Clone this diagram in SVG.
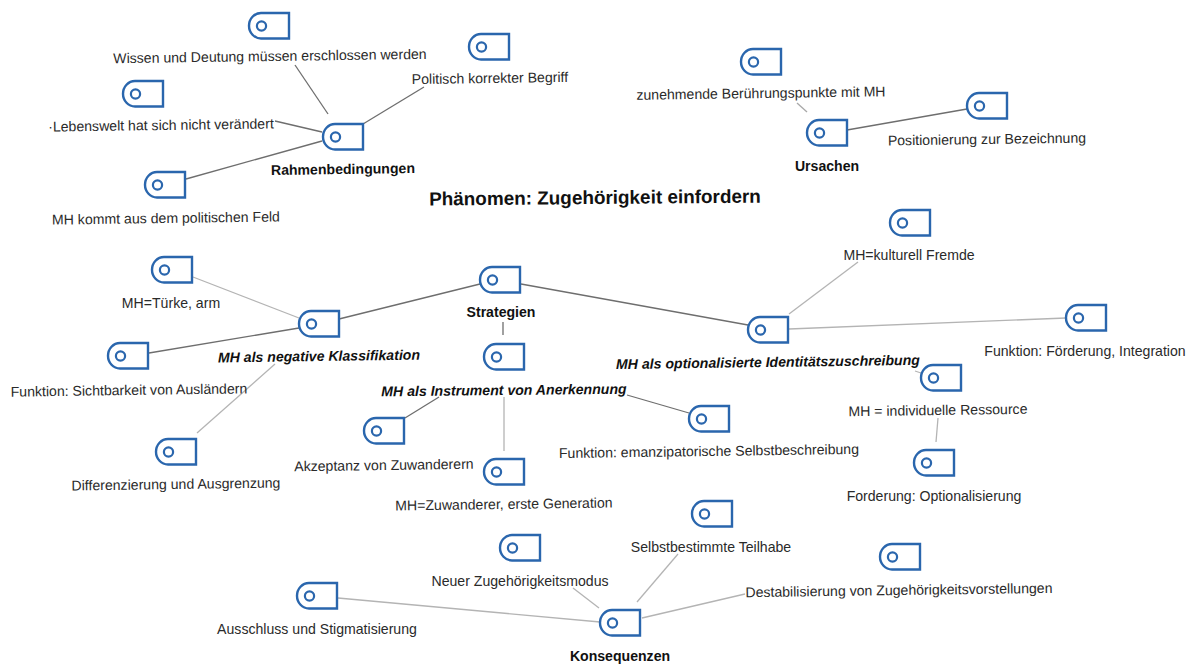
<svg xmlns="http://www.w3.org/2000/svg" xmlns:xlink="http://www.w3.org/1999/xlink" width="1197" height="664" viewBox="0 0 1197 664">
<style>
text{font-family:"Liberation Sans",Arial,sans-serif;font-size:14.1px;fill:#2a2a2a;text-anchor:middle}
.b{font-weight:bold;fill:#111}
.bi{font-weight:bold;font-style:italic;fill:#111}
.t{font-size:18.9px;font-weight:bold;fill:#111}
.d{stroke:#6e6e6e;stroke-width:1.3;fill:none}
.l{stroke:#b4b4b4;stroke-width:1.3;fill:none}
.s{fill:#fff;stroke:#2a66ad;stroke-width:2.4}
.c{fill:#fff;stroke:#2a66ad;stroke-width:2.2}
</style>
<defs><g id="n"><path class="s" d="M12 0H40V25.500H12A12 12.750 0 0 1 12 0Z"/><circle class="c" cx="12.500" cy="13" r="4.600"/></g></defs>
<rect width="1197" height="664" fill="#fff"/>
<g id="connectors">
<path class="d" d="M295 65L328 114"/><path class="d" d="M424 87L363 124"/><path class="d" d="M275 121L322 132"/><path class="d" d="M322 141L186 179"/>
<path class="d" d="M797 103L807 112" opacity=".6"/><path class="d" d="M847 130L967 109"/>
<path class="l" d="M193 277L299 318"/><path class="d" d="M339 319L480 284"/><path class="d" d="M299 328L149 353"/><path class="d" d="M521 284L748 325"/>
<path class="d" d="M503 322V335"/><path class="l" d="M275 364L197 433"/><path class="d" d="M439 397L405 418"/><path class="l" d="M504 397V451"/><path class="d" d="M627 395L689 413"/>
<path class="l" d="M858 262L789 314"/><path class="l" d="M789 329L1066 318"/><path class="l" d="M915 371L921 373"/><path class="l" d="M938 418L936 442"/>
<path class="l" d="M338 598L600 622"/><path class="l" d="M573 588L599 608"/><path class="l" d="M637 602L678 554"/><path class="l" d="M642 618L745 594"/>
</g>
<use id="node-1" href="#n" x="249" y="13"/><use id="node-2" href="#n" x="469" y="34"/><use id="node-3" href="#n" x="123" y="81"/><use id="node-4" href="#n" x="323" y="124"/><use id="node-5" href="#n" x="145" y="172"/>
<use id="node-6" href="#n" x="741" y="49"/><use id="node-7" href="#n" x="967" y="93"/><use id="node-8" href="#n" x="807" y="120"/><use id="node-9" href="#n" x="890" y="210"/><use id="node-10" href="#n" x="152" y="257"/>
<use id="node-11" href="#n" x="480" y="267"/><use id="node-12" href="#n" x="299" y="311"/><use id="node-13" href="#n" x="108" y="343"/><use id="node-14" href="#n" x="484" y="344"/><use id="node-15" href="#n" x="1066" y="305"/>
<use id="node-16" href="#n" x="748" y="317"/><use id="node-17" href="#n" x="921" y="365"/><use id="node-18" href="#n" x="689" y="406"/><use id="node-19" href="#n" x="364" y="418"/><use id="node-20" href="#n" x="156" y="439"/>
<use id="node-21" href="#n" x="914" y="450"/><use id="node-22" href="#n" x="484" y="459"/><use id="node-23" href="#n" x="692" y="501"/><use id="node-24" href="#n" x="500" y="535"/><use id="node-25" href="#n" x="880" y="544"/>
<use id="node-26" href="#n" x="297" y="583"/><use id="node-27" href="#n" x="600" y="610"/>
<g id="labels">
<text x="270" y="61" transform="rotate(-.8 270 61)">Wissen und Deutung müssen erschlossen werden</text>
<text x="490" y="83" transform="rotate(-.8 490 83)">Politisch korrekter Begriff</text>
<text x="161" y="130" transform="rotate(-.8 161 130)">·Lebenswelt hat sich nicht verändert</text>
<text x="343" y="174" class="b" transform="rotate(-.8 343 174)">Rahmenbedingungen</text>
<text x="166" y="223" transform="rotate(-.8 166 223)">MH kommt aus dem politischen Feld</text>
<text x="761" y="98" transform="rotate(-.8 761 98)">zunehmende Berührungspunkte mit MH</text>
<text x="987" y="144" transform="rotate(-.8 987 144)">Positionierung zur Bezeichnung</text>
<text x="827" y="171" class="b">Ursachen</text>
<text x="595" y="204" class="t" transform="rotate(-.5 595 204)">Phänomen: Zugehörigkeit einfordern</text>
<text x="171" y="308">MH=Türke, arm</text>
<text x="501" y="317" class="b">Strategien</text>
<text x="319" y="361" class="bi" transform="rotate(-.8 319 361)">MH als negative Klassifikation</text>
<text x="129" y="395" transform="rotate(-.8 129 395)">Funktion: Sichtbarkeit von Ausländern</text>
<text x="504" y="395" class="bi" transform="rotate(-.6 504 395)">MH als Instrument von Anerkennung</text>
<text x="768" y="367" class="bi" transform="rotate(-.8 768 367)">MH als optionalisierte Identitätszuschreibung</text>
<text x="909" y="260">MH=kulturell Fremde</text>
<text x="1085" y="356">Funktion: Förderung, Integration</text>
<text x="938" y="415" transform="rotate(-.8 938 415)">MH = individuelle Ressource</text>
<text x="709" y="456" transform="rotate(-.8 709 456)">Funktion: emanzipatorische Selbstbeschreibung</text>
<text x="384" y="470" transform="rotate(-.8 384 470)">Akzeptanz von Zuwanderern</text>
<text x="176" y="489" transform="rotate(-.8 176 489)">Differenzierung und Ausgrenzung</text>
<text x="934" y="501">Forderung: Optionalisierung</text>
<text x="504" y="509" transform="rotate(-.8 504 509)">MH=Zuwanderer, erste Generation</text>
<text x="711" y="552">Selbstbestimmte Teilhabe</text>
<text x="520" y="586">Neuer Zugehörigkeitsmodus</text>
<text x="899" y="595" transform="rotate(-.8 899 595)">Destabilisierung von Zugehörigkeitsvorstellungen</text>
<text x="317" y="634">Ausschluss und Stigmatisierung</text>
<text x="620" y="661" class="b">Konsequenzen</text>
</g>
</svg>
